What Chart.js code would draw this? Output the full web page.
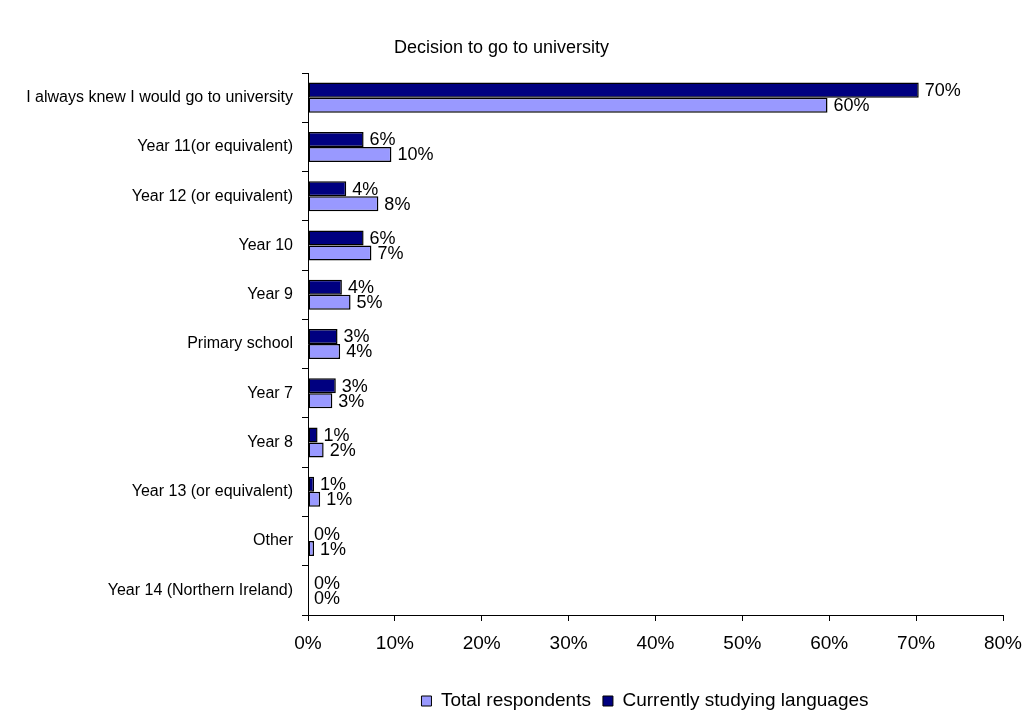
<!DOCTYPE html>
<html>
<head>
<meta charset="utf-8">
<title>Decision to go to university</title>
<script src="https://cdn.jsdelivr.net/npm/chart.js@4.4.1/dist/chart.umd.min.js"></script>
<style>
  html, body { margin: 0; padding: 0; background: #fff; }
  #wrap { width: 1036px; height: 713px; position: relative; }
</style>
</head>
<body>
<div id="wrap"><canvas id="chart" width="1036" height="713"></canvas></div>
<script>
// Survey answers: when respondents decided to go to university (share, %)
const categories = [
  'I always knew I would go to university',
  'Year 11(or equivalent)',
  'Year 12 (or equivalent)',
  'Year 10',
  'Year 9',
  'Primary school',
  'Year 7',
  'Year 8',
  'Year 13 (or equivalent)',
  'Other',
  'Year 14 (Northern Ireland)'
];
const currentlyStudyingLanguages = [70.3, 6.4, 4.4, 6.4, 3.9, 3.4, 3.2, 1.1, 0.7, 0.0, 0.0];
const totalRespondents = [59.8, 9.6, 8.1, 7.3, 4.9, 3.7, 2.8, 1.8, 1.4, 0.7, 0.0];
const seriesNames = ['Currently studying languages', 'Total respondents'];
const xTicks = [0, 10, 20, 30, 40, 50, 60, 70, 80];

const FONT = '"Liberation Sans", Arial, Helvetica, sans-serif';

// Writes the rounded percentage just past the end of every bar
const barValueLabels = {
  id: 'barValueLabels',
  afterDatasetsDraw(chart) {
    const ctx = chart.ctx;
    ctx.save();
    ctx.font = '18px ' + FONT;
    ctx.fillStyle = '#000';
    ctx.textAlign = 'left';
    ctx.textBaseline = 'middle';
    chart.data.datasets.forEach((ds, di) => {
      const meta = chart.getDatasetMeta(di);
      meta.data.forEach((bar, i) => {
        const v = ds.data[i];
        ctx.fillText(Math.round(v) + '%', bar.x + 6, bar.y + 1);
      });
    });
    ctx.restore();
  }
};

// Centres the legend row under the plot area and sets its baseline row
const legendPlacement = {
  id: 'legendPlacement',
  afterLayout(chart) {
    const lg = chart.legend;
    if (!lg) return;
    const pad = lg.options.labels.padding;
    const h = lg.bottom - lg.top;
    lg.left = 287;
    lg.right = 1003;
    lg.top = 701 - pad - 9.5;
    lg.bottom = lg.top + h;
  }
};

new Chart(document.getElementById('chart'), {
  type: 'bar',
  data: {
    labels: categories,
    datasets: [
      {
        label: seriesNames[0],
        data: currentlyStudyingLanguages,
        backgroundColor: '#000080',
        borderColor: '#000000',
        borderWidth: 1.5,
        borderSkipped: false,
        categoryPercentage: 0.61,
        barPercentage: 1.0
      },
      {
        label: seriesNames[1],
        data: totalRespondents,
        backgroundColor: '#9999FF',
        borderColor: '#000000',
        borderWidth: 1.5,
        borderSkipped: false,
        categoryPercentage: 0.61,
        barPercentage: 1.0
      }
    ]
  },
  options: {
    indexAxis: 'y',
    responsive: false,
    animation: false,
    layout: { padding: { left: 0, right: 33, top: 0, bottom: 0 } },
    scales: {
      x: {
        type: 'linear',
        min: 0,
        max: 80,
        afterBuildTicks(scale) { scale.ticks = xTicks.map(v => ({ value: v })); },
        afterFit(scale) { scale.height = 57; },
        ticks: {
          color: '#000',
          font: { family: FONT, size: 19 },
          padding: 11,
          maxRotation: 0,
          callback: v => v + '%'
        },
        grid: {
          drawOnChartArea: false,
          drawTicks: true,
          tickLength: 6,
          color: '#000'
        },
        border: { display: true, color: '#000', width: 1 }
      },
      y: {
        type: 'category',
        afterFit(scale) { scale.width = 308; },
        ticks: {
          color: '#000',
          font: { family: FONT, size: 16 },
          padding: 9,
          autoSkip: false
        },
        grid: {
          offset: true,
          drawOnChartArea: false,
          drawTicks: true,
          tickLength: 6,
          color: '#000'
        },
        border: { display: true, color: '#000', width: 1 }
      }
    },
    plugins: {
      title: {
        display: true,
        text: 'Decision to go to university',
        color: '#000',
        font: { family: FONT, size: 18, weight: 'normal' },
        padding: { top: 37, bottom: 14.4 }
      },
      legend: {
        display: true,
        position: 'bottom',
        reverse: true,
        labels: {
          color: '#000',
          font: { family: FONT, size: 19 },
          boxWidth: 10,
          boxHeight: 10,
          padding: 12,
          generateLabels(chart) {
            return chart.data.datasets.map((ds, i) => ({
              text: ds.label,
              fillStyle: ds.backgroundColor,
              strokeStyle: '#000',
              lineWidth: 1,
              hidden: false,
              datasetIndex: i
            }));
          }
        }
      },
      tooltip: { enabled: false }
    }
  },
  plugins: [barValueLabels, legendPlacement]
});
</script>
</body>
</html>
